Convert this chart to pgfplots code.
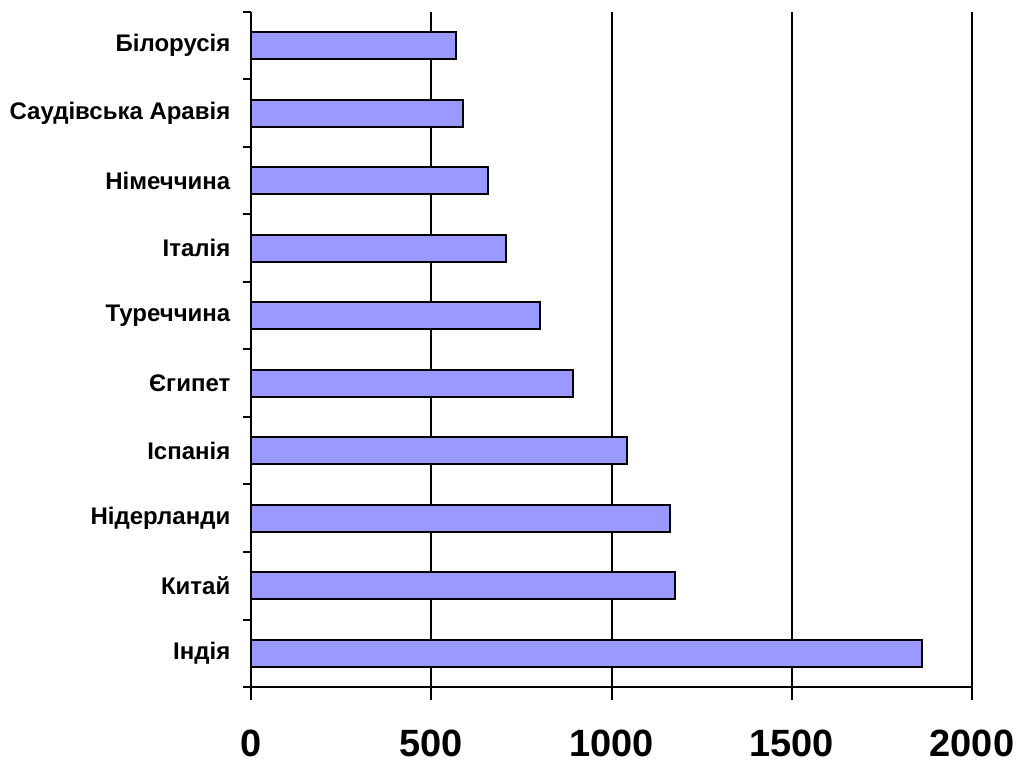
\documentclass[border=0pt]{standalone}
\usepackage{fontspec}
\setmainfont{Liberation Sans}
\usepackage{pgfplots}
\pgfplotsset{compat=1.18}
\definecolor{barblue}{HTML}{9999FF}

\begin{document}
\begin{tikzpicture}
% page size: 1019 x 764 px at 0.75pt per px
\useasboundingbox (0,0) rectangle (764.25pt,573pt);
\begin{axis}[
    at={(188.25pt,57.75pt)}, anchor=south west,
    scale only axis,
    width=540.75pt, height=506.25pt,
    xbar,
    bar width=0.4,
    xmin=0, xmax=2000,
    ymin=-0.5, ymax=9.5,
    axis x line=bottom, axis y line=left,
    axis line style={-, line width=1.5pt, black},
    xtick={0,500,1000,1500,2000},
    ytick={0,...,9},
    yticklabels={Індія,Китай,Нідерланди,Іспанія,Єгипет,Туреччина,Італія,Німеччина,Саудівська Аравія,Білорусія},
    minor ytick={-0.5,0.5,...,9.5},
    tick align=outside,
    xmajorgrids=true,
    grid style={black, line width=1.5pt},
    major tick length=10pt,
    minor tick length=6pt,
    x tick style={black, line width=1.5pt},
    minor y tick style={black, line width=1.5pt},
    major y tick style={draw=none},
    /pgf/number format/assume math mode=true,
    /pgf/number format/1000 sep={},
    xticklabel style={font=\fontsize{28.5}{30}\selectfont\bfseries, yshift=-19pt},
    yticklabel style={font=\fontsize{18}{20}\selectfont\bfseries, xshift=-2pt},
    clip=false,
]
\addplot[fill=barblue, draw=black, line width=1.5pt] coordinates {
    (1861,0) (1175,1) (1161,2) (1044,3) (892,4)
    (803,5) (706,6) (658,7) (589,8) (569,9)
};
\end{axis}
\end{tikzpicture}
\end{document}
